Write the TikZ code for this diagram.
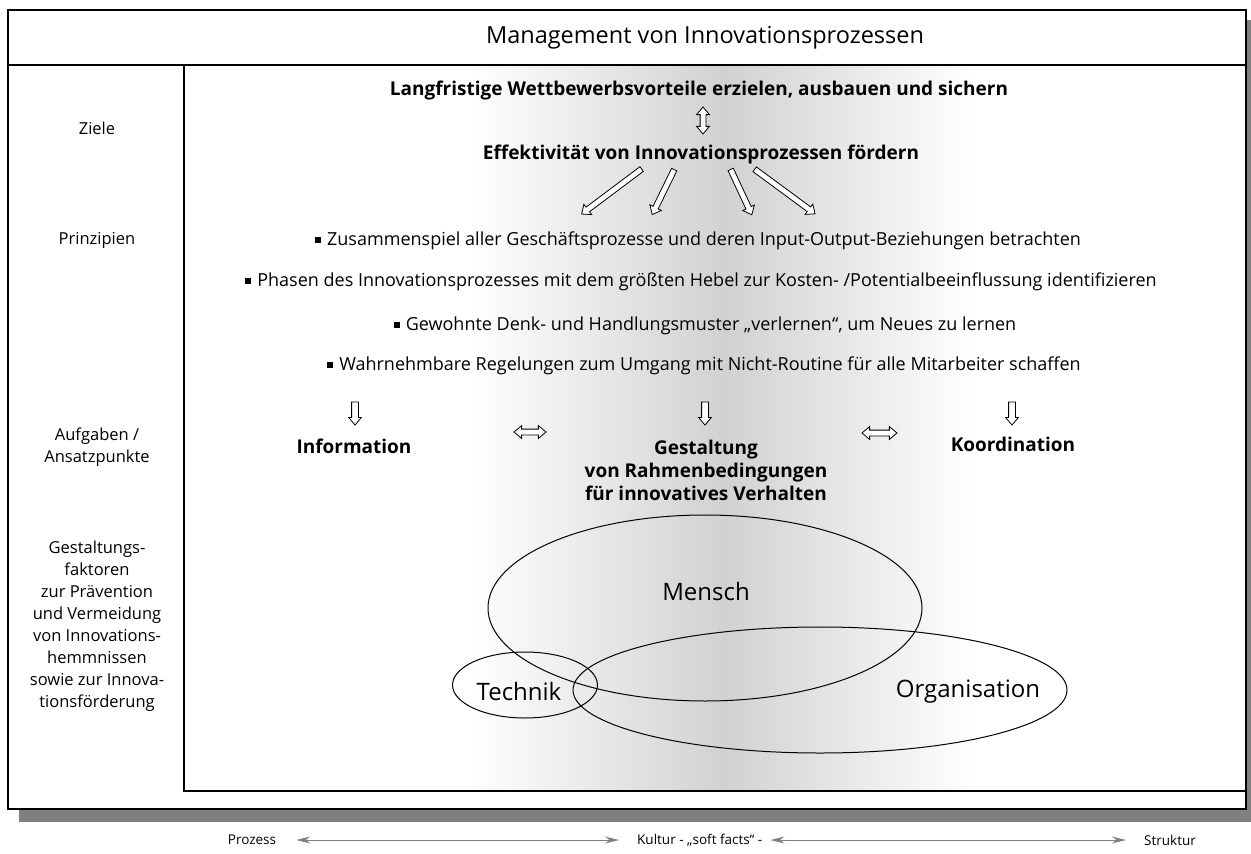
\documentclass[tikz,border=0pt]{standalone}
\usepackage{fontspec}
\setmainfont{Open Sans}
\usetikzlibrary{shapes.arrows,shapes.geometric,arrows.meta,calc}

\begin{document}
\begin{tikzpicture}[x=1pt,y=-1pt,
  every node/.style={inner sep=0pt},
  body/.style={font=\fontsize{18}{23}\selectfont},
  strong/.style={font=\fontsize{19}{23}\selectfont\bfseries},
  side/.style={align=center,font=\fontsize{16.5}{22}\selectfont},
  big/.style={font=\fontsize{24}{28}\selectfont},
  axis/.style={font=\fontsize{13.5}{16}\selectfont},
  openarrow/.style={single arrow, draw=black, fill=white, line width=0.8pt,
    inner xsep=0pt, inner ysep=2.5pt, minimum width=0pt,
    single arrow head extend=3.5pt, single arrow tip angle=80},
  twoway/.style={double arrow, draw=black, fill=white, line width=0.8pt,
    inner xsep=0pt, inner ysep=2.5pt, minimum width=0pt,
    double arrow head extend=3.5pt, double arrow tip angle=80},
  ring/.style={ellipse, draw=black, line width=1pt},
  axisarrow/.style={draw=black!50, line width=0.8pt,
    {Stealth[length=14pt,width=7pt]}-{Stealth[length=14pt,width=7pt]}}
]
\useasboundingbox (0,0) rectangle (1251,854);

% frame with drop shadow
\fill[black!50] (19,20) rectangle (1251,822);
\fill[white] (8,10) rectangle (1246,809);
% soft vertical band behind the content
\shade[left color=white, right color=black!18] (470,65) rectangle (725,791);
\shade[left color=black!18, right color=white] (725,65) rectangle (975,791);
\draw[line width=1.5pt] (8,65) -- (1246,65);
\draw[line width=1.3pt] (184,65) -- (184,791) -- (1246,791);
\draw[line width=2pt] (8,10) rectangle (1246,809);

% header
\node[font=\fontsize{23.5}{28}\selectfont] (title) at (705,38) {Management von Innovationsprozessen};

% row labels
\node[side] (lziele) at (97,128) {Ziele};
\node[side] (lprinz) at (97,240) {Prinzipien};
\node[side] (lauf) at (97,447) {Aufgaben /\\Ansatzpunkte};
\node[side] (lgest) at (97,626) {Gestaltungs-\\faktoren\\zur Prävention\\und Vermeidung\\von Innovations-\\hemmnissen\\sowie zur Innova-\\tionsförderung};

% goals
\node[strong] (goal) at (699,91) {Langfristige Wettbewerbsvorteile erzielen, ausbauen und sichern};
\node[strong] (eff) at (701,155) {Effektivität von Innovationsprozessen fördern};
\coordinate (gu) at (703,107);
\coordinate (gd) at (703,134);
\path (gu) -- (gd) node[midway, sloped, allow upside down, twoway, minimum height=27pt] {};

% principles
\newcommand{\sqbullet}{\rule[2.5pt]{6pt}{6pt}\hspace{6pt}}
\node[body] (p1) at (698,241) {\sqbullet Zusammenspiel aller Geschäftsprozesse und deren Input-Output-Beziehungen betrachten};
\node[body] (p2) at (701,282) {\sqbullet Phasen des Innovationsprozesses mit dem größten Hebel zur Kosten- /Potentialbeeinflussung identifizieren};
\node[body] (p3) at (705,326) {\sqbullet Gewohnte Denk- und Handlungsmuster „verlernen“, um Neues zu lernen};
\node[body] (p4) at (704,366) {\sqbullet Wahrnehmbare Regelungen zum Umgang mit Nicht-Routine für alle Mitarbeiter schaffen};

% arrows fanning out from the effectiveness goal
\coordinate (a1s) at (643,168); \coordinate (a1e) at (583,213);
\coordinate (a2s) at (675,168); \coordinate (a2e) at (653,213);
\coordinate (a3s) at (730,168); \coordinate (a3e) at (751,213);
\coordinate (a4s) at (753,168); \coordinate (a4e) at (814,213);
\path (a1s) -- (a1e) node[midway, sloped, allow upside down, openarrow, minimum height=75pt] {};
\path (a2s) -- (a2e) node[midway, sloped, allow upside down, openarrow, minimum height=50pt] {};
\path (a3s) -- (a3e) node[midway, sloped, allow upside down, openarrow, minimum height=50pt] {};
\path (a4s) -- (a4e) node[midway, sloped, allow upside down, openarrow, minimum height=75pt] {};

% tasks
\node[strong] (info) at (354,446) {Information};
\node[strong, align=center] (gestalt) at (706,470) {Gestaltung\\von Rahmenbedingungen\\für innovatives Verhalten};
\node[strong] (koord) at (1013,444) {Koordination};
\foreach \x/\n in {355/d1,705/d2,1012/d3}{
  \coordinate (\n s) at (\x,400);
  \coordinate (\n e) at (\x,423);
  \path (\n s) -- (\n e) node[midway, sloped, allow upside down, openarrow, inner ysep=3pt, single arrow head extend=3pt, minimum height=23pt] {};
}
\coordinate (h1s) at (514,432); \coordinate (h1e) at (546,432);
\coordinate (h2s) at (862,433); \coordinate (h2e) at (897,433);
\path (h1s) -- (h1e) node[midway, sloped, twoway, minimum height=32pt] {};
\path (h2s) -- (h2e) node[midway, sloped, twoway, minimum height=35pt] {};

% design factors
\node[ring, minimum width=434pt, minimum height=186pt] (mensch) at (705,608) {};
\node[ring, minimum width=494pt, minimum height=126pt] (orga) at (820,690) {};
\node[ring, minimum width=145pt, minimum height=66pt] (technik) at (525,685) {};
\node[big] (tmensch) at (706,591) {Mensch};
\node[big] (torga) at (968,692) {Organisation};
\node[big] (ttech) at (519,691) {Technik};

% scale below the frame
\node[axis] (prozess) at (252,840) {Prozess};
\node[axis, anchor=west] (kultur) at (637,840) {Kultur - „soft facts“ -};
\node[axis] (struktur) at (1170,840) {Struktur};
\draw[axisarrow] ($(prozess.east)+(20,0)$) -- ($(kultur.west)+(-18,0)$);
\draw[axisarrow] ($(kultur.east)+(8,0)$) -- ($(struktur.west)+(-18,0)$);
\end{tikzpicture}
\end{document}
